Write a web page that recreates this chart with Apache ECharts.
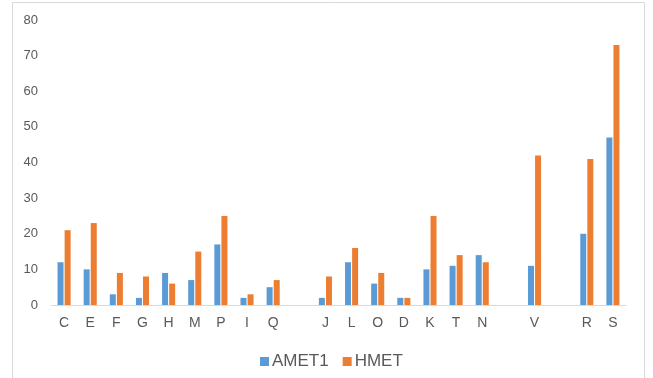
<!DOCTYPE html>
<html>
<head>
<meta charset="utf-8">
<script src="https://cdn.jsdelivr.net/npm/echarts@6/dist/echarts.min.js"></script>
<style>
  html, body { margin: 0; padding: 0; background: #fff; }
  #chart { width: 653px; height: 378px; }
</style>
</head>
<body>
<div id="chart"></div>
<script>
// Categories (empty strings are spacer slots between groups)
const categories = ['C','E','F','G','H','M','P','I','Q','','J','L','O','D','K','T','N','','V','','R','S'];
const amet1 = [12,10,3,2,9,7,17,2,5,null,2,12,6,2,10,11,14,null,11,null,20,47];
const hmet  = [21,23,9,8,6,15,25,3,7,null,8,16,9,2,25,14,12,null,42,null,41,73];
const yTicks = { min: 0, max: 80, step: 10 };

const textColor = '#595959';
const fontFamily = '"Liberation Sans", Arial, sans-serif';

const chart = echarts.init(document.getElementById('chart'), null, { renderer: 'canvas' });
chart.setOption({
  animation: false,
  backgroundColor: '#ffffff',
  textStyle: { fontFamily: fontFamily },
  graphic: [{
    type: 'rect',
    shape: { x: 12.5, y: 2.5, width: 632, height: 400 },
    style: { fill: 'none', stroke: '#d9d9d9', lineWidth: 1 },
    silent: true
  }],
  grid: { left: 51, right: 27, top: 20, bottom: 73, containLabel: false },
  legend: {
    data: ['AMET1', 'HMET'],
    left: 255,
    top: 348,
    itemWidth: 9,
    itemHeight: 9,
    itemGap: 14,
    icon: 'rect',
    textStyle: { color: textColor, fontSize: 17, fontFamily: fontFamily, padding: [0, 0, 0, -2] }
  },
  xAxis: {
    type: 'category',
    data: categories,
    axisLine: { lineStyle: { color: '#d9d9d9', width: 1 } },
    axisTick: { show: false },
    axisLabel: { interval: 0, color: textColor, fontSize: 14, margin: 11 }
  },
  yAxis: {
    type: 'value',
    min: yTicks.min,
    max: yTicks.max,
    interval: yTicks.step,
    axisLine: { show: false },
    axisTick: { show: false },
    splitLine: { show: false },
    axisLabel: { color: textColor, fontSize: 13, margin: 13 }
  },
  series: [
    {
      name: 'AMET1',
      type: 'bar',
      data: amet1,
      barWidth: 6,
      barGap: '18%',
      itemStyle: { color: '#5b9bd5' }
    },
    {
      name: 'HMET',
      type: 'bar',
      data: hmet,
      barWidth: 6,
      itemStyle: { color: '#ed7d31' }
    }
  ]
});
</script>
</body>
</html>
